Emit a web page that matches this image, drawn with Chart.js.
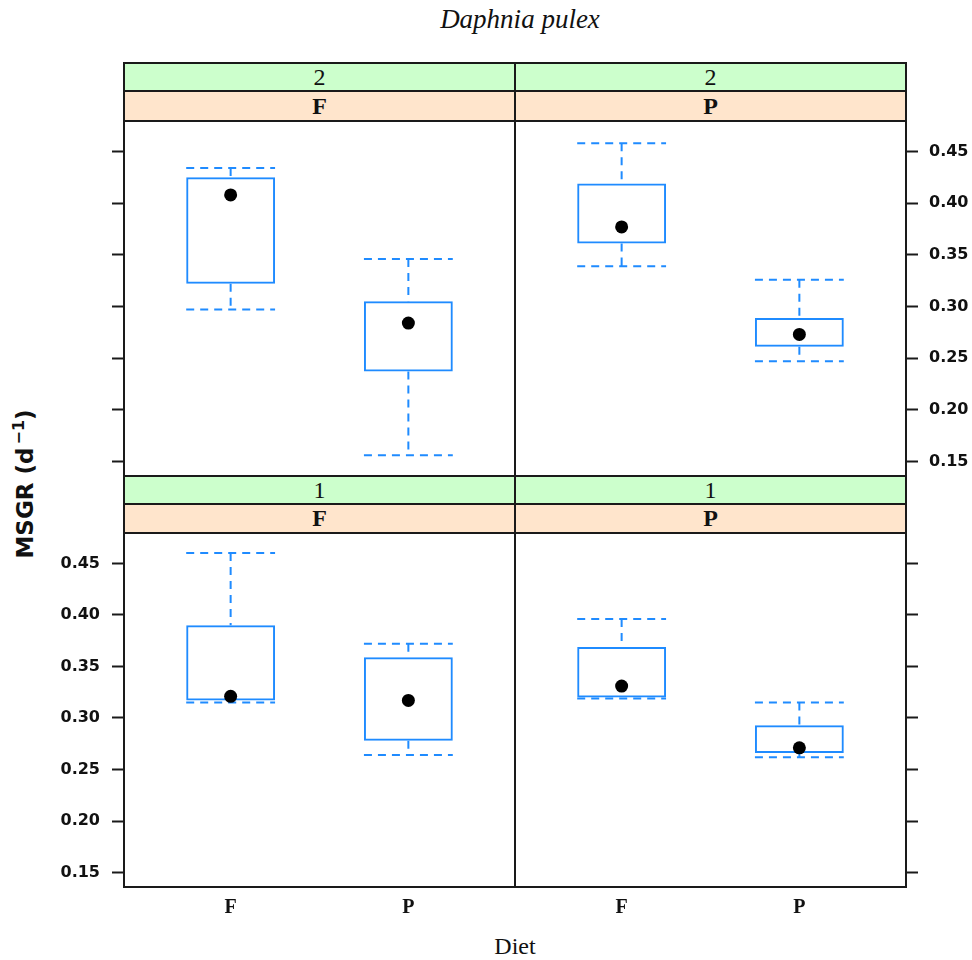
<!DOCTYPE html>
<html>
<head>
<meta charset="utf-8">
<title>Daphnia pulex — MSGR by diet</title>
<script src="https://cdn.jsdelivr.net/npm/chart.js@4.4.1/dist/chart.umd.min.js"></script>
<style>
  html, body { margin: 0; padding: 0; background: #ffffff; }
  #page { position: relative; width: 972px; height: 960px; overflow: hidden; background: #ffffff; }
  canvas.panel { position: absolute; left: 0; top: 0; }
  .strip {
    position: absolute; box-sizing: border-box; border: 2px solid #1a1a1a;
    display: flex; align-items: center; justify-content: center;
    font-family: "Liberation Serif", "Times New Roman", serif; font-size: 24px; color: #111;
  }
  .strip.outer { background: #ccffcc; }
  .strip.inner { background: #ffe5cc; font-weight: bold; }
  #title {
    position: absolute; left: 0; width: 1040px; top: 4px; line-height: 30px; text-align: center;
    font-family: "Liberation Serif", serif; font-style: italic; font-size: 27px; color: #111;
  }
  #xlab {
    position: absolute; left: 0; width: 1030px; top: 932px; line-height: 28px; text-align: center;
    font-family: "Liberation Serif", serif; font-size: 24px; color: #111;
  }
  #ylab {
    position: absolute; left: -125px; top: 469px; width: 300px; height: 30px; line-height: 30px;
    text-align: center; transform: rotate(-90deg); transform-origin: 50% 50%;
    font-family: "DejaVu Sans", sans-serif; font-weight: bold; font-size: 23px; color: #111;
    white-space: nowrap;
  }
  #ylab sup { font-size: 16px; vertical-align: 9px; line-height: 0; margin-left: 3px; }
</style>
</head>
<body>
<div id="page">
  <div id="title">Daphnia pulex</div>
  <div id="ylab">MSGR (d<sup>−1</sup>)</div>
  <div id="xlab">Diet</div>
</div>
<script>
// ---- data -------------------------------------------------------------
// Panels are listed top-left, top-right, bottom-left, bottom-right.
const outerLevels = ['2', '2', '1', '1'];      // upper (green) strip
const innerLevels = ['F', 'P', 'F', 'P'];      // lower (peach) strip
const dietLevels = ['F', 'P'];                 // x categories
const dietPositions = [1, 2];
const yTicks = [0.15, 0.20, 0.25, 0.30, 0.35, 0.40, 0.45];

// five-number summaries, one [F, P] pair per panel
const whiskerLow   = [[0.297, 0.156], [0.339, 0.247], [0.315, 0.264], [0.319, 0.262]];
const quartileLow  = [[0.322, 0.237], [0.361, 0.261], [0.317, 0.278], [0.320, 0.266]];
const medianValue  = [[0.408, 0.284], [0.377, 0.273], [0.321, 0.317], [0.331, 0.271]];
const quartileHigh = [[0.425, 0.305], [0.419, 0.289], [0.390, 0.359], [0.369, 0.293]];
const whiskerHigh  = [[0.434, 0.346], [0.458, 0.326], [0.460, 0.372], [0.396, 0.315]];

// ---- layout / style ---------------------------------------------------
const Y_MIN = 0.136, Y_MAX = 0.4795;
const X_MIN = 0.4, X_MAX = 2.6;
const HALF_BOX = 0.25;               // half box width in category units
const colEdges = [124, 515, 906];
const rowPlots = [[121, 476], [533, 887]];
const stripBands = [[[63, 91], [91, 121]], [[476, 504], [504, 533]]];
const W = 972, H = 960;
const Y_AXIS_W = [80, 62];           // room for the left / right tick labels
const X_AXIS_H = 44;                 // room for the bottom category labels
const BOX_BLUE = '#1f8bff';
const INK = '#1a1a1a';

const page = document.getElementById('page');

const framePlugin = {
  id: 'panelFrame',
  afterDraw(chart) {
    const { ctx, chartArea: a } = chart;
    ctx.save();
    ctx.strokeStyle = INK;
    ctx.lineWidth = 2;
    ctx.strokeRect(a.left, a.top, a.right - a.left, a.bottom - a.top);
    ctx.restore();
  }
};

function addStrip(x1, x2, y1, y2, cls, text) {
  const d = document.createElement('div');
  d.className = 'strip ' + cls;
  d.style.left = (x1 - 1) + 'px';
  d.style.top = (y1 - 1) + 'px';
  d.style.width = (x2 - x1 + 2) + 'px';
  d.style.height = (y2 - y1 + 2) + 'px';
  d.textContent = text;
  page.appendChild(d);
}

function makePanel(i) {
  const row = Math.floor(i / 2), col = i % 2;
  const left = colEdges[col], right = colEdges[col + 1];
  const top = rowPlots[row][0], bottom = rowPlots[row][1];
  const yW = Y_AXIS_W[col];
  const xH = row === 1 ? X_AXIS_H : 0;

  const canvas = document.createElement('canvas');
  canvas.className = 'panel';
  canvas.width = W; canvas.height = H;
  page.appendChild(canvas);

  // whisker segments: umbrella, stem up, stem down, umbrella (null breaks the line)
  const whiskerPts = [];
  dietPositions.forEach((x, k) => {
    const lo = whiskerLow[i][k], hi = whiskerHigh[i][k];
    const q1 = quartileLow[i][k], q3 = quartileHigh[i][k];
    whiskerPts.push(
      { x: x - HALF_BOX, y: hi }, { x: x + HALF_BOX, y: hi }, { x: x, y: null },
      { x: x, y: hi }, { x: x, y: q3 }, { x: x, y: null },
      { x: x, y: q1 }, { x: x, y: lo }, { x: x, y: null },
      { x: x - HALF_BOX, y: lo }, { x: x + HALF_BOX, y: lo }, { x: x, y: null }
    );
  });
  const boxes = dietPositions.map((x, k) => ({ x: x, y: [quartileLow[i][k], quartileHigh[i][k]] }));
  const medians = dietPositions.map((x, k) => ({ x: x, y: medianValue[i][k] }));

  const showYLabels = (i === 1 || i === 2);

  new Chart(canvas, {
    type: 'bar',
    data: {
      datasets: [
        {
          type: 'line', data: whiskerPts, order: 3,
          borderColor: BOX_BLUE, borderWidth: 2, borderDash: [8, 6],
          pointRadius: 0, pointHitRadius: 0, spanGaps: false, fill: false, tension: 0
        },
        {
          type: 'bar', data: boxes, order: 2,
          backgroundColor: 'rgba(0,0,0,0)', borderColor: BOX_BLUE, borderWidth: 2,
          borderSkipped: false, barPercentage: 0.5, categoryPercentage: 1.0, inflateAmount: 0
        },
        {
          type: 'line', data: medians, order: 1, showLine: false,
          pointRadius: 6.5, pointHoverRadius: 6.5, pointBackgroundColor: '#000000',
          pointBorderWidth: 0, pointBorderColor: '#000000'
        }
      ]
    },
    options: {
      responsive: false, animation: false, devicePixelRatio: 1,
      events: [],
      layout: {
        padding: {
          left: col === 0 ? left - yW : left,
          right: col === 1 ? W - right - yW : W - right,
          top: top,
          bottom: H - bottom - xH
        }
      },
      plugins: { legend: { display: false }, tooltip: { enabled: false } },
      scales: {
        x: {
          type: 'linear', min: X_MIN, max: X_MAX, bounds: 'data', offset: false,
          afterBuildTicks: s => { s.ticks = dietPositions.map(v => ({ value: v })); },
          afterFit: s => { s.height = xH; },
          grid: { display: false, drawTicks: false, offset: false },
          border: { display: false },
          ticks: {
            display: row === 1, autoSkip: false, maxRotation: 0, padding: 9,
            callback: v => dietLevels[dietPositions.indexOf(v)],
            font: { family: 'Liberation Serif', size: 20, weight: 'bold' }, color: '#111'
          }
        },
        y: {
          type: 'linear', position: col === 0 ? 'left' : 'right',
          min: Y_MIN, max: Y_MAX, bounds: 'data',
          afterBuildTicks: s => { s.ticks = yTicks.map(v => ({ value: v })); },
          afterFit: s => { s.width = yW; },
          grid: { drawOnChartArea: false, drawTicks: true, tickLength: 12, tickWidth: 2, tickColor: INK },
          border: { display: false },
          ticks: {
            display: showYLabels, padding: col === 0 ? 12 : 11,
            callback: v => v.toFixed(2),
            font: { family: 'DejaVu Sans', size: 16, weight: 'bold' }, color: '#111'
          }
        }
      }
    },
    plugins: [framePlugin]
  });

  const [g, p] = stripBands[row];
  addStrip(left, right, g[0], g[1], 'outer', outerLevels[i]);
  addStrip(left, right, p[0], p[1], 'inner', innerLevels[i]);
}

for (let i = 0; i < 4; i++) makePanel(i);
</script>
</body>
</html>
